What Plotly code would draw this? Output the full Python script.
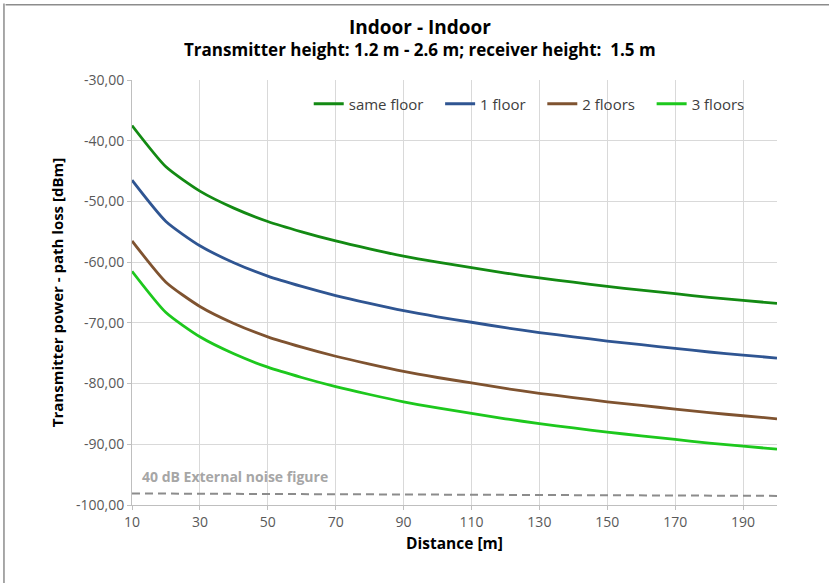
import plotly.graph_objects as go

# ---- data ----
distance = [10, 20, 30, 40, 50, 60, 70, 80, 90, 100, 110, 120, 130, 140, 150, 160, 170, 180, 190, 200]
same_floor = [-37.5, -44.3, -48.3, -51.1, -53.3, -55.0, -56.5, -57.8, -59.0, -60.0,
              -60.9, -61.8, -62.6, -63.3, -64.0, -64.6, -65.2, -65.8, -66.3, -66.8]
one_floor = [-46.5, -53.3, -57.3, -60.1, -62.3, -64.0, -65.5, -66.8, -68.0, -69.0,
             -69.9, -70.8, -71.6, -72.3, -73.0, -73.6, -74.2, -74.8, -75.3, -75.8]
two_floors = [-56.5, -63.3, -67.3, -70.1, -72.3, -74.0, -75.5, -76.8, -78.0, -79.0,
              -79.9, -80.8, -81.6, -82.3, -83.0, -83.6, -84.2, -84.8, -85.3, -85.8]
three_floors = [-61.5, -68.3, -72.3, -75.1, -77.3, -79.0, -80.5, -81.8, -83.0, -84.0,
                -84.9, -85.8, -86.6, -87.3, -88.0, -88.6, -89.2, -89.8, -90.3, -90.8]
noise_x = [10, 200]
noise_y = [-98.1, -98.5]

series_names = ["same floor", "1 floor", "2 floors", "3 floors"]
series_vals = [same_floor, one_floor, two_floors, three_floors]
series_colors = ["#138a13", "#2f5592", "#7f5330", "#1dc81d"]

x_ticks = [10, 30, 50, 70, 90, 110, 130, 150, 170, 190]
y_ticks = [-30, -40, -50, -60, -70, -80, -90, -100]
y_ticktext = ["-30,00", "-40,00", "-50,00", "-60,00", "-70,00", "-80,00", "-90,00", "-100,00"]

title_text = "Indoor - Indoor"
subtitle_text = "Transmitter height: 1.2 m - 2.6 m; receiver height:  1.5 m"

FONT = "Open Sans"
NBSP = "\u00a0"

fig = go.Figure()
for name, vals, col in zip(series_names, series_vals, series_colors):
    fig.add_trace(go.Scatter(x=distance, y=vals, name=name + NBSP * 3, mode="lines",
                             line=dict(color=col, width=2.8, shape="spline", smoothing=0.6)))

fig.add_trace(go.Scatter(x=noise_x, y=noise_y, mode="lines", showlegend=False,
                         line=dict(color="#8c8c8c", width=2, dash="8px,5px")))

fig.add_annotation(x=0.012, xref="paper", y=-95.3, yref="y", xanchor="left", yanchor="middle",
                   text="<b>40 dB External noise figure</b>", showarrow=False,
                   font=dict(family=FONT, size=14, color="#a6a6a6"))

# titles
fig.add_annotation(x=0.4465, xref="paper", y=1.1247, yref="paper", xanchor="center", yanchor="middle",
                   text="<b>" + title_text + "</b>", showarrow=False,
                   font=dict(family=FONT, size=19, color="#000000"))
fig.add_annotation(x=0.4465, xref="paper", y=1.0706, yref="paper", xanchor="center", yanchor="middle",
                   text="<b>" + subtitle_text + "</b>", showarrow=False,
                   font=dict(family=FONT, size=17, color="#000000"))

# chart border (top and left visible)
fig.add_shape(type="line", xref="paper", yref="paper", x0=-0.196, x1=1.2, y0=1.177, y1=1.177,
              line=dict(color="#8c8c8c", width=1.5))
fig.add_shape(type="line", xref="paper", yref="paper", x0=-0.1985, x1=-0.1985, y0=1.18, y1=-0.2,
              line=dict(color="#8c8c8c", width=1.5))

fig.update_layout(
    width=829, height=583,
    margin=dict(l=132, r=52, t=80, b=78),
    paper_bgcolor="white", plot_bgcolor="white",
    font=dict(family=FONT, color="#595959"),
    legend=dict(orientation="h", x=0.274, xanchor="left", y=0.9435, yanchor="middle",
                font=dict(family=FONT, size=15, color="#404040"),
                bgcolor="rgba(0,0,0,0)", itemwidth=30, tracegroupgap=0),
    showlegend=True,
)

fig.update_xaxes(range=[10, 200], tickvals=x_ticks, ticktext=[str(t) for t in x_ticks],
                 showgrid=True, gridcolor="#d9d9d9", gridwidth=1,
                 showline=True, linecolor="#bfbfbf", linewidth=1,
                 ticks="outside", ticklen=4, tickcolor="#bfbfbf",
                 tickfont=dict(family=FONT, size=14, color="#595959"),
                 title=dict(text="<b>Distance [m]</b>", font=dict(family=FONT, size=15.5, color="#000000"), standoff=8),
                 zeroline=False, automargin=False)
fig.update_yaxes(range=[-100, -30], tickvals=y_ticks, ticktext=y_ticktext,
                 showgrid=True, gridcolor="#d9d9d9", gridwidth=1,
                 showline=True, linecolor="#bfbfbf", linewidth=1,
                 ticks="outside", ticklen=4, tickcolor="#bfbfbf",
                 tickfont=dict(family=FONT, size=14, color="#595959"),
                 title=dict(text="<b>Transmitter power - path loss [dBm]</b>", font=dict(family=FONT, size=15, color="#000000"), standoff=8),
                 zeroline=False, automargin=False)

fig.write_html("out.html", config={"displayModeBar": False},
               post_script="document.body.style.margin='0';")
